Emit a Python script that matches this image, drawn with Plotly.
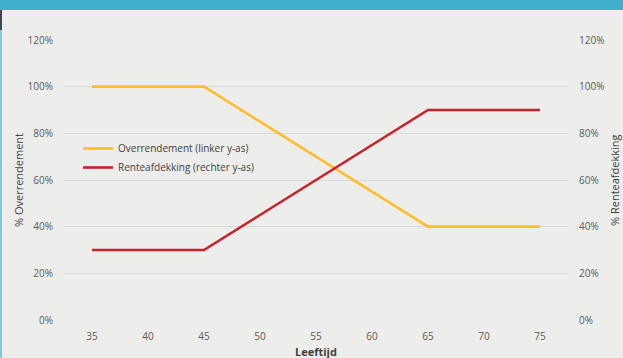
import plotly.graph_objects as go

leeftijd = [35, 40, 45, 50, 55, 60, 65, 70, 75]
overrendement = [100, 100, 100, 85, 70, 55, 40, 40, 40]
renteafdekking = [30, 30, 30, 45, 60, 75, 90, 90, 90]
y_ticks = [0, 20, 40, 60, 80, 100, 120]
y_ticklabels = [f"{v}%" for v in y_ticks]

FONT = "Open Sans, Noto Sans, sans-serif"
TICK_COLOR = "#595959"

fig = go.Figure()
fig.add_trace(go.Scatter(
    x=leeftijd, y=overrendement, mode="lines",
    name="Overrendement (linker y-as)",
    line=dict(color="#FDBD2C", width=2.6), yaxis="y",
))
fig.add_trace(go.Scatter(
    x=leeftijd, y=renteafdekking, mode="lines",
    name="Renteafdekking (rechter y-as)",
    line=dict(color="#C8222B", width=2.6), yaxis="y2",
))

W, H = 623, 358
L, R, T, B = 64, 55, 40, 38
pw, ph = W - L - R, H - T - B

def px_x(x):
    return (x - L) / pw

def px_y(y):
    return (H - y - B) / ph

fig.update_layout(
    width=W, height=H,
    margin=dict(l=L, r=R, t=T, b=B),
    paper_bgcolor="#EDEDEB",
    plot_bgcolor="#EDEDEB",
    font=dict(family=FONT, size=10, color=TICK_COLOR),
    showlegend=True,
    legend=dict(
        x=px_x(78), y=px_y(134), xanchor="left", yanchor="top",
        bgcolor="rgba(0,0,0,0)", font=dict(size=10, color="#404040"),
        itemwidth=30, tracegroupgap=0,
    ),
    xaxis=dict(
        range=[32.5, 77.5], tickmode="array", tickvals=leeftijd,
        showgrid=False, zeroline=False, showline=False, ticks="",
        ticklabelstandoff=9,
        tickfont=dict(size=10, color=TICK_COLOR),
    ),
    yaxis=dict(
        range=[0, 120], tickmode="array", tickvals=y_ticks, ticktext=y_ticklabels,
        showgrid=True, gridcolor="#D9D9D9", gridwidth=1, zeroline=False,
        showline=False, ticks="", ticklabelstandoff=10,
        tickfont=dict(size=10, color=TICK_COLOR),
    ),
    yaxis2=dict(
        range=[0, 120], tickmode="array", tickvals=y_ticks, ticktext=y_ticklabels,
        overlaying="y", side="right", showgrid=False, zeroline=False,
        showline=False, ticks="", ticklabelstandoff=10,
        tickfont=dict(size=10, color=TICK_COLOR),
    ),
    shapes=[
        dict(type="rect", xref="paper", yref="paper",
             x0=px_x(-5), x1=px_x(W + 5), y0=px_y(10), y1=px_y(-5),
             fillcolor="#40B1CD", line=dict(width=0), layer="above"),
        dict(type="rect", xref="paper", yref="paper",
             x0=px_x(-2), x1=px_x(2), y0=px_y(H + 5), y1=px_y(10),
             fillcolor="#7FCBDD", line=dict(width=0), layer="above"),
        dict(type="rect", xref="paper", yref="paper",
             x0=px_x(-2), x1=px_x(2), y0=px_y(30), y1=px_y(10),
             fillcolor="#3A4A55", line=dict(width=0), layer="above"),
    ],
    annotations=[
        dict(text="% Overrendement", xref="paper", yref="paper",
             x=px_x(18), y=px_y(180), textangle=-90, showarrow=False,
             xanchor="center", yanchor="middle",
             font=dict(size=11, color="#404040")),
        dict(text="% Renteafdekking", xref="paper", yref="paper",
             x=px_x(614), y=px_y(180), textangle=-90, showarrow=False,
             xanchor="center", yanchor="middle",
             font=dict(size=11, color="#404040")),
        dict(text="<b>Leeftijd</b>", xref="paper", yref="paper",
             x=px_x(316), y=px_y(351), showarrow=False,
             xanchor="center", yanchor="middle",
             font=dict(size=11, color="#404040")),
    ],
)

fig.write_html("out.html")
